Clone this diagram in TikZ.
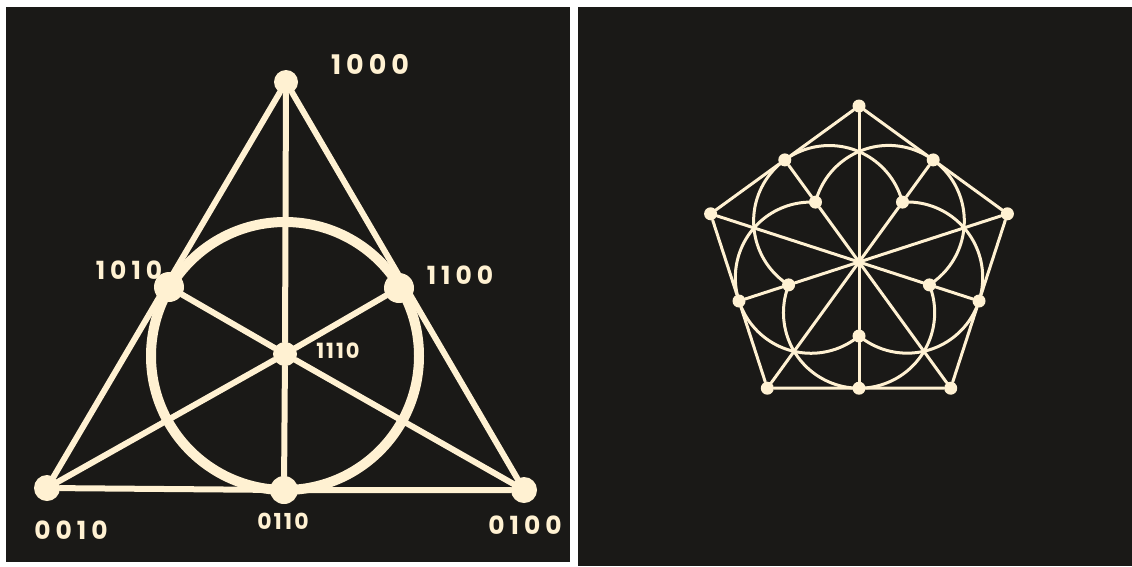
\documentclass[tikz,border=0pt]{standalone}
\usepackage{fontspec}
\setmainfont{Poppins}
\usetikzlibrary{backgrounds}
\definecolor{cream}{RGB}{255,241,210}
\definecolor{panel}{RGB}{26,25,23}
\newcommand\gp{\hspace{5pt}}
\begin{document}
\begin{tikzpicture}[x=1pt,y=-1pt,
  dotL/.style={circle,fill=cream,inner sep=0pt,minimum size=#1},
  dotR/.style={circle,fill=cream,inner sep=0pt,minimum size=13pt},
  lineL/.style={draw=cream,line width=6pt,line cap=round},
  lineR/.style={draw=cream,line width=3pt,line cap=round},
  ringR/.style={draw=cream,line width=3pt},
  lab/.style={text=cream,inner sep=0pt,font=\fontsize{#1}{#1}\selectfont\bfseries}]
\useasboundingbox (0,0) rectangle (1132,566);
% ---------- left panel : Fano plane ----------
\node[draw=cream,line width=10pt,circle,minimum size=268pt,inner sep=0pt] (ring) at (285,356) {};
\node[dotL=24pt] (p1000) at (286,82) {};
\node[dotL=26pt] (p0010) at (47,488) {};
\node[dotL=26pt] (p0100) at (524,490) {};
\node[dotL=28pt] (p0110) at (284,490) {};
\node[dotL=30pt] (p1010) at (169,287) {};
\node[dotL=30pt] (p1100) at (399,288) {};
\node[dotL=24pt] (p1110) at (285,354) {};
\node[lab=27] (t1000) at (370,64) {1\gp0\gp0\gp0};
\node[lab=25] (t1010) at (129,270) {1\gp0\gp1\gp0};
\node[lab=25] (t1100) at (460,275) {1\gp1\gp0\gp0};
\node[lab=21] (t1110) at (338,351) {1\hspace{2pt}1\hspace{2pt}1\hspace{2pt}0};
\node[lab=25] (t0010) at (71,530) {0\gp0\gp1\gp0};
\node[lab=22] (t0110) at (283,521) {0\hspace{2pt}1\hspace{2pt}1\hspace{2pt}0};
\node[lab=25] (t0100) at (525,525) {0\gp1\gp0\gp0};
% ---------- right panel : nodes ----------
\node[dotR] (vT)  at (859,106) {};
\node[dotR] (vUL) at (710.6,213.8) {};
\node[dotR] (vUR) at (1007.4,213.8) {};
\node[dotR] (vLL) at (767.3,388.2) {};
\node[dotR] (vLR) at (950.7,388.2) {};
\node[dotR] (mUL) at (784.8,159.9) {};
\node[dotR] (mUR) at (933.2,159.9) {};
\node[dotR] (mL)  at (739.0,301.0) {};
\node[dotR] (mR)  at (979.0,301.0) {};
\node[dotR] (mB)  at (859,388.2) {};
\node[dotR] (iUL) at (815.5,202.1) {};
\node[dotR] (iUR) at (902.5,202.1) {};
\node[dotR] (iL)  at (788.6,284.9) {};
\node[dotR] (iR)  at (929.4,284.9) {};
\node[dotR] (iB)  at (859,336) {};
\begin{pgfonlayer}{background}
  \fill[white] (0,0) rectangle (1132,566);
  \fill[panel] (6,7) rectangle (570,562);
  \fill[panel] (578,7) rectangle (1132,566);
  % left lines
  \path[lineL] (p1000) -- (p0010) -- (p0110) -- (p0100) -- (p1000);
  \path[lineL] (p1000) -- (p1110) -- (p0110);
  \path[lineL] (p0010) -- (p1110) -- (p1100);
  \path[lineL] (p0100) -- (p1110) -- (p1010);
  % right lines
  \path[lineR] (vT) -- (mUL) -- (vUL) -- (mL) -- (vLL) -- (mB) -- (vLR) -- (mR) -- (vUR) -- (mUR) -- (vT);
  \path[lineR] (vT) -- (iB) -- (mB);
  \path[lineR] (vUL) -- (iR) -- (mR);
  \path[lineR] (vUR) -- (iL) -- (mL);
  \path[lineR] (vLL) -- (iUR) -- (mUR);
  \path[lineR] (vLR) -- (iUL) -- (mUL);
  % right arcs (inner point -> midpoint -> inner point)
  \draw[ringR] (iL.center)  arc[start angle=-237.5,end angle=-14.5,radius=75.6];
  \draw[ringR] (iUL.center) arc[start angle=-165.5,end angle=57.5,radius=75.6];
  \draw[ringR] (iB.center)  arc[start angle=-309.5,end angle=-86.5,radius=75.6];
  \draw[ringR] (iUR.center) arc[start angle=-93.5,end angle=129.5,radius=75.6];
  \draw[ringR] (iR.center)  arc[start angle=-21.5,end angle=201.5,radius=75.6];
\end{pgfonlayer}
\end{tikzpicture}
\end{document}
